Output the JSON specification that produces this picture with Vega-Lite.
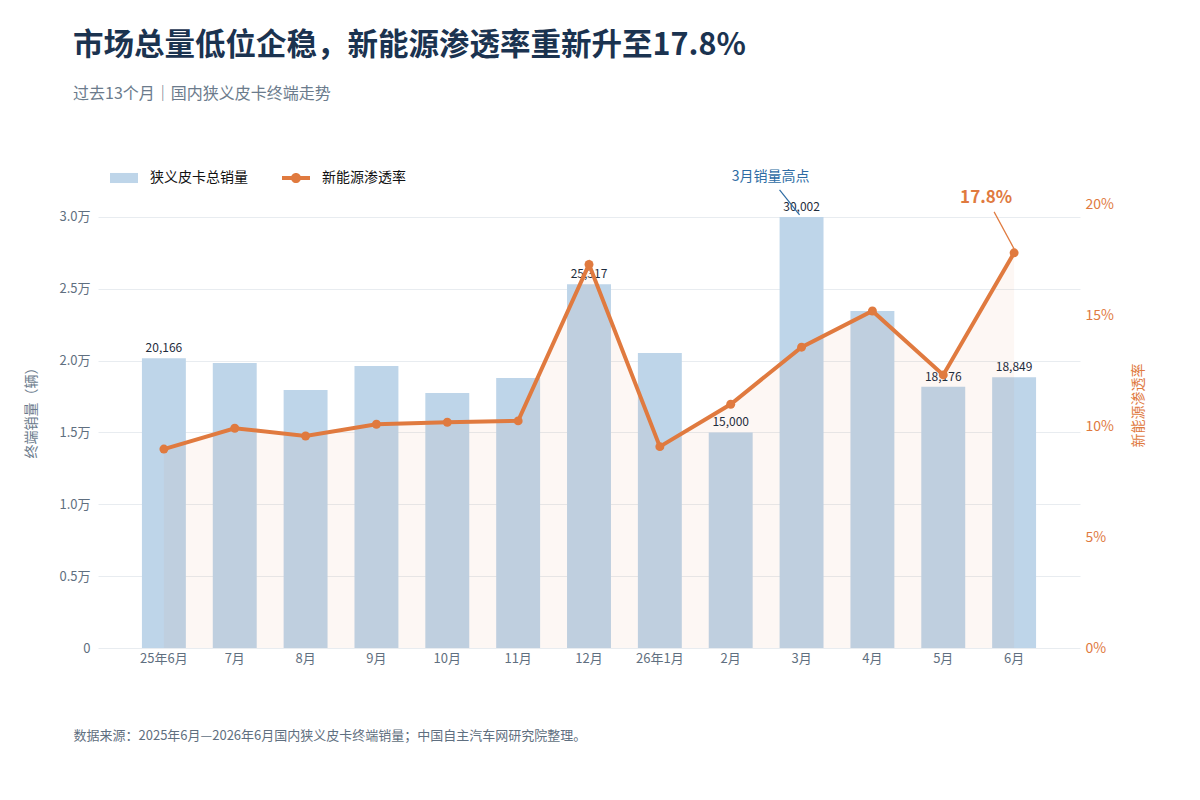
{
  "$schema": "https://vega.github.io/schema/vega-lite/v6.json",
  "description": "Narrow pickup monthly retail sales vs NEV penetration, 13 months",
  "autosize": {"type": "none"},
  "width": 982,
  "height": 444,
  "padding": {"left": 98, "top": 204, "right": 120, "bottom": 152},
  "background": "#ffffff",
  "config": {
    "font": "Noto Sans CJK SC",
    "view": {"stroke": null}
  },
  "title": {
    "text": "市场总量低位企稳，新能源渗透率重新升至17.8%",
    "subtitle": "过去13个月｜国内狭义皮卡终端走势",
    "anchor": "start",
    "frame": "group",
    "dx": -25,
    "offset": 62,
    "fontSize": 30.5,
    "fontWeight": "bold",
    "color": "#1b3350",
    "subtitleFontSize": 16,
    "subtitleColor": "#6b7b8c",
    "subtitlePadding": 25
  },
  "data": {
    "values": [
      {"month": "25年6月", "sales": 20166, "nev": 0.0896, "show": true},
      {"month": "7月", "sales": 19830, "nev": 0.099, "show": false},
      {"month": "8月", "sales": 17950, "nev": 0.0955, "show": false},
      {"month": "9月", "sales": 19620, "nev": 0.1008, "show": false},
      {"month": "10月", "sales": 17750, "nev": 0.1017, "show": false},
      {"month": "11月", "sales": 18790, "nev": 0.1023, "show": false},
      {"month": "12月", "sales": 25317, "nev": 0.1728, "show": true},
      {"month": "26年1月", "sales": 20530, "nev": 0.0907, "show": false},
      {"month": "2月", "sales": 15000, "nev": 0.1098, "show": true},
      {"month": "3月", "sales": 30002, "nev": 0.1355, "show": true},
      {"month": "4月", "sales": 23450, "nev": 0.1518, "show": false},
      {"month": "5月", "sales": 18176, "nev": 0.123, "show": true},
      {"month": "6月", "sales": 18849, "nev": 0.178, "show": true}
    ]
  },
  "encoding": {
    "x": {
      "field": "month",
      "type": "ordinal",
      "sort": null,
      "scale": {
        "domain": ["25年6月", "7月", "8月", "9月", "10月", "11月", "12月", "26年1月", "2月", "3月", "4月", "5月", "6月"],
        "paddingInner": 0.38,
        "paddingOuter": 0.62
      },
      "axis": {
        "title": "数据来源：2025年6月—2026年6月国内狭义皮卡终端销量；中国自主汽车网研究院整理。",
        "titleFontSize": 13,
        "titleFontWeight": "normal",
        "titleColor": "#5f6f80",
        "titleAnchor": "start",
        "titleAlign": "left",
        "titleBaseline": "middle",
        "titleX": -25,
        "titleY": 87,
        "labelAngle": 0,
        "labelFontSize": 13,
        "labelColor": "#5f6f80",
        "labelPadding": 4,
        "ticks": false,
        "domain": false
      }
    }
  },
  "layer": [
    {
      "mark": {"type": "bar", "fill": "#bed5e9"},
      "encoding": {
        "y": {
          "field": "sales",
          "type": "quantitative",
          "scale": {"domain": [0, 30900], "nice": false},
          "axis": {
            "title": "终端销量（辆）",
            "titleFontSize": 14,
            "titleFontWeight": "normal",
            "titleColor": "#6b7b8c",
            "titleX": -60,
            "titleY": 205,
            "values": [0, 5000, 10000, 15000, 20000, 25000, 30000],
            "labelExpr": "datum.value == 0 ? '0' : format(datum.value / 10000, '.1f') + '万'",
            "labelFontSize": 13,
            "labelColor": "#5f6f80",
            "labelPadding": 8,
            "ticks": false,
            "domain": false,
            "grid": true,
            "gridColor": "#e8ecf0"
          }
        },
        "color": {
          "datum": "狭义皮卡总销量",
          "type": "nominal",
          "scale": {"domain": ["狭义皮卡总销量", "新能源渗透率"], "range": ["#bed5e9", "#e07a3f"]},
          "legend": {
            "orient": "none",
            "legendX": 12,
            "legendY": -40,
            "direction": "horizontal",
            "title": null,
            "symbolSize": 784,
            "symbolStrokeWidth": 0,
            "labelFontSize": 14,
            "labelColor": "#111111",
            "labelOffset": 12,
            "columnPadding": 34,
            "encode": {
              "symbols": {
                "update": {
                  "shape": {"signal": "datum.value === '狭义皮卡总销量' ? 'M-1,-0.36H1V0.36H-1Z' : 'M-1,-0.14H1V0.14H-1Z M0.36,0A0.36,0.36 0 1,1 -0.36,0A0.36,0.36 0 1,1 0.36,0Z'"}
                }
              }
            }
          }
        }
      }
    },
    {
      "mark": {"type": "area", "color": "#e07a3f", "opacity": 0.06},
      "encoding": {
        "y": {"field": "nev", "type": "quantitative", "scale": {"domain": [0, 0.2], "nice": false}, "axis": null}
      }
    },
    {
      "transform": [{"filter": "datum.show"}],
      "mark": {"type": "text", "dy": -10, "fontSize": 12, "color": "#1f2d3d"},
      "encoding": {
        "y": {"field": "sales", "type": "quantitative", "scale": {"domain": [0, 30900], "nice": false}, "axis": null},
        "text": {"field": "sales", "type": "quantitative", "format": ","}
      }
    },
    {
      "mark": {
        "type": "line",
        "color": "#e07a3f",
        "strokeWidth": 4,
        "point": {"filled": true, "size": 80, "color": "#e07a3f"}
      },
      "encoding": {
        "y": {
          "field": "nev",
          "type": "quantitative",
          "scale": {"domain": [0, 0.2], "nice": false},
          "axis": {
            "orient": "right",
            "title": "新能源渗透率",
            "titleAngle": 270,
            "titleFontSize": 14,
            "titleFontWeight": "normal",
            "titleColor": "#e07a3f",
            "titleX": 58,
            "titleY": 201,
            "titleBaseline": "middle",
            "values": [0, 0.05, 0.1, 0.15, 0.2],
            "format": ".0%",
            "labelFontSize": 14,
            "labelColor": "#e07a3f",
            "labelPadding": 5,
            "ticks": false,
            "domain": false,
            "grid": false
          }
        }
      }
    },
    {
      "data": {"values": [{}]},
      "mark": {"type": "text", "dx": -31, "dy": -40, "fontSize": 14, "color": "#2e6ca4"},
      "encoding": {
        "x": {"datum": "3月"},
        "y": {"datum": 30002, "type": "quantitative", "scale": {"domain": [0, 30900], "nice": false}, "axis": null},
        "text": {"value": "3月销量高点"}
      }
    },
    {
      "data": {"values": [{}]},
      "mark": {"type": "rule", "color": "#2e6ca4", "strokeWidth": 1.2, "xOffset": -22, "yOffset": -27, "x2Offset": -2, "y2Offset": -2},
      "encoding": {
        "x": {"datum": "3月"},
        "x2": {"datum": "3月"},
        "y": {"datum": 30002, "type": "quantitative", "scale": {"domain": [0, 30900], "nice": false}, "axis": null},
        "y2": {"datum": 30002}
      }
    },
    {
      "data": {"values": [{}]},
      "mark": {"type": "text", "dx": -28, "dy": -55, "fontSize": 17, "fontWeight": "bold", "color": "#e07a3f"},
      "encoding": {
        "x": {"datum": "6月"},
        "y": {"datum": 0.178, "type": "quantitative", "scale": {"domain": [0, 0.2], "nice": false}, "axis": null},
        "text": {"value": "17.8%"}
      }
    },
    {
      "data": {"values": [{}]},
      "mark": {"type": "rule", "color": "#e07a3f", "strokeWidth": 1.2, "xOffset": -20, "yOffset": -41, "x2Offset": 0, "y2Offset": -4},
      "encoding": {
        "x": {"datum": "6月"},
        "x2": {"datum": "6月"},
        "y": {"datum": 0.178, "type": "quantitative", "scale": {"domain": [0, 0.2], "nice": false}, "axis": null},
        "y2": {"datum": 0.178}
      }
    }
  ],
  "resolve": {"scale": {"y": "independent"}}
}
